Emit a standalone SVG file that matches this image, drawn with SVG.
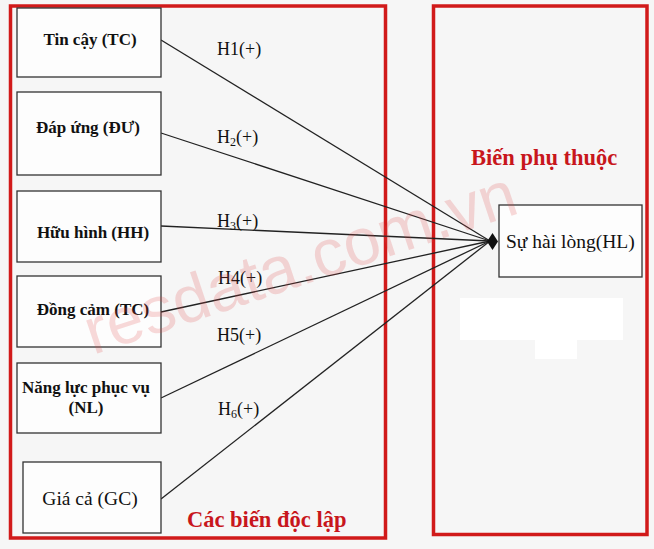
<svg xmlns="http://www.w3.org/2000/svg" width="654" height="549" viewBox="0 0 654 549">
<style>
.frame{fill:none;stroke:#d11a1a;stroke-width:3.5}
.node{fill:#fdfdfd;stroke:#333;stroke-width:1.3}
.nb{font-family:"Liberation Serif","Times New Roman",serif;font-weight:bold;font-size:17px;fill:#111;text-anchor:middle}
.nr{font-family:"Liberation Serif","Times New Roman",serif;font-size:19.5px;fill:#111}
.lbl{font-family:"Liberation Serif","Times New Roman",serif;font-size:18px;fill:#111}
.sub{font-size:12px}
.title{font-family:"Liberation Serif","Times New Roman",serif;font-weight:bold;font-size:22.5px;fill:#c8161c}
.conn{stroke:#222;stroke-width:1.3;fill:none}
.wm{font-family:"Liberation Sans",Arial,sans-serif;font-size:66px;fill:#e04848;fill-opacity:0.2}
</style>
<rect x="0" y="0" width="654" height="549" fill="#f6f6f6"/>
<rect x="460" y="298" width="163" height="42" fill="#ffffff"/>
<rect x="535" y="338" width="42" height="21" fill="#ffffff"/>
<g id="frame-independent">
<rect class="frame" x="10.5" y="6" width="375" height="532"/>
<text class="title" x="187" y="527">Các biến độc lập</text>
</g>
<g id="frame-dependent">
<rect class="frame" x="433.5" y="6" width="213.5" height="528.5"/>
<text class="title" x="471" y="165">Biến phụ thuộc</text>
</g>
<g id="connectors">
<line class="conn" x1="161" y1="40" x2="490" y2="241"/>
<line class="conn" x1="161" y1="133" x2="490" y2="241"/>
<line class="conn" x1="161" y1="226" x2="490" y2="241"/>
<line class="conn" x1="161" y1="312" x2="490" y2="241"/>
<line class="conn" x1="161" y1="398" x2="490" y2="241"/>
<line class="conn" x1="161" y1="499" x2="490" y2="241"/>
<polygon points="487,241.5 492.5,233 498,241.5 492.5,250" fill="#111"/>
<text class="lbl" x="217" y="55">H1(+)</text>
<text class="lbl" x="217" y="143">H<tspan class="sub" dy="3">2</tspan><tspan dy="-3">(+)</tspan></text>
<text class="lbl" x="217" y="227">H<tspan class="sub" dy="3">3</tspan><tspan dy="-3">(+)</tspan></text>
<text class="lbl" x="218" y="284">H4(+)</text>
<text class="lbl" x="217" y="341">H5(+)</text>
<text class="lbl" x="218" y="415">H<tspan class="sub" dy="3">6</tspan><tspan dy="-3">(+)</tspan></text>
</g>
<g id="node-tc">
<rect class="node" x="17" y="8" width="144" height="69"/>
<text class="nb" x="90" y="45">Tin cậy (TC)</text>
</g>
<g id="node-du">
<rect class="node" x="17" y="92" width="144" height="83"/>
<text class="nb" x="88" y="133">Đáp ứng (ĐƯ)</text>
</g>
<g id="node-hh">
<rect class="node" x="17" y="191" width="144" height="71"/>
<text class="nb" x="93" y="238">Hữu hình (HH)</text>
</g>
<g id="node-dc">
<rect class="node" x="17" y="276" width="144" height="71"/>
<text class="nb" x="93" y="315">Đồng cảm (TC)</text>
</g>
<g id="node-nl">
<rect class="node" x="17" y="363" width="144" height="70"/>
<text class="nb" x="86" y="393">Năng lực phục vụ</text>
<text class="nb" x="86" y="413">(NL)</text>
</g>
<g id="node-gc">
<rect class="node" x="23" y="462" width="138" height="71"/>
<text class="nr" x="90" y="505" text-anchor="middle">Giá cả (GC)</text>
</g>
<g id="node-hl">
<rect class="node" x="499" y="205" width="143" height="72"/>
<text class="nr" x="506" y="248">Sự hài lòng(HL)</text>
</g>
<text class="wm" x="93" y="355" transform="rotate(-18.4 93 355)">resdata.com.vn</text>
</svg>
